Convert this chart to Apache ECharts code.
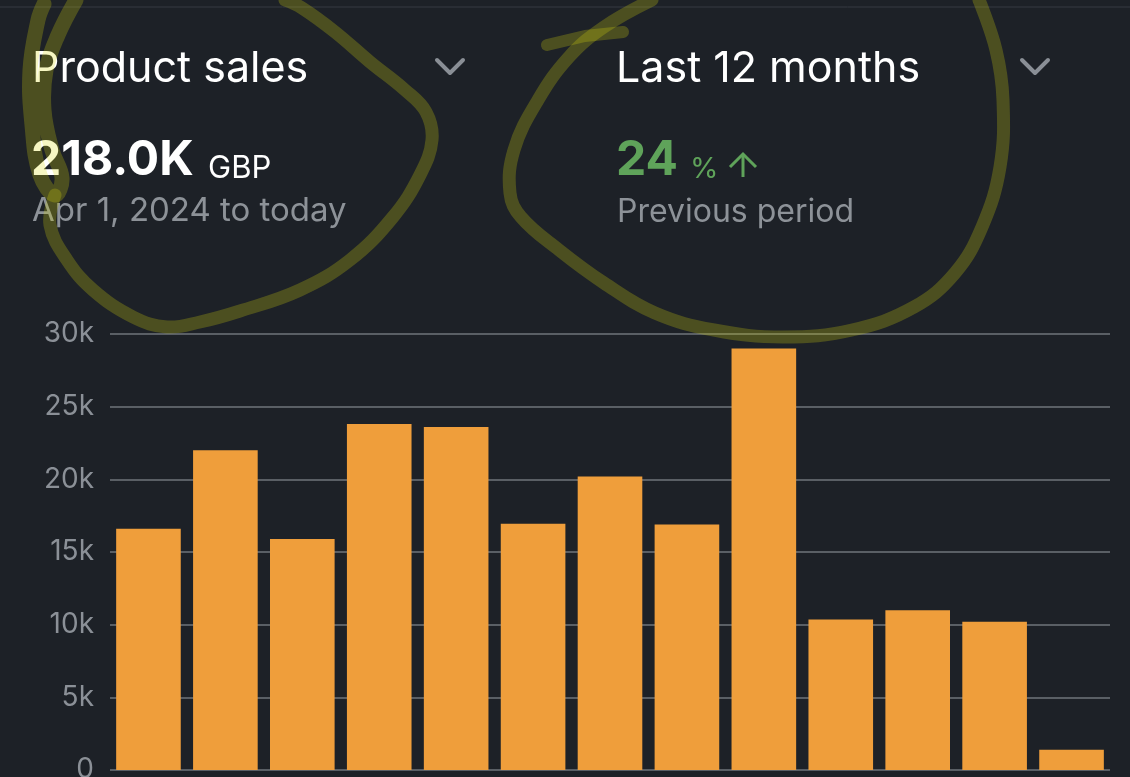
<!DOCTYPE html>
<html>
<head>
<meta charset="utf-8">
<script src="https://cdn.jsdelivr.net/npm/echarts@6/dist/echarts.min.js"></script>
<style>
html,body{margin:0;padding:0;background:#1d2127;}
#chart{width:1130px;height:777px;}
</style>
</head>
<body>
<div id="chart"></div>
<script>
// ---- data ----
const months = ['Apr 2024','May 2024','Jun 2024','Jul 2024','Aug 2024','Sep 2024','Oct 2024','Nov 2024','Dec 2024','Jan 2025','Feb 2025','Mar 2025','Apr 2025'];
const sales = [16600, 22000, 15900, 23800, 23600, 16950, 20200, 16900, 29000, 10350, 11000, 10200, 1400];
const yTicks = [0, 5000, 10000, 15000, 20000, 25000, 30000];
const metricTitle = 'Product sales';
const metricValue = '218.0K';
const metricUnit = 'GBP';
const metricRange = 'Apr 1, 2024 to today';
const periodTitle = 'Last 12 months';
const changeValue = '24';
const changeUnit = '%';
const changeLabel = 'Previous period';

const FONT = 'Inter, "Noto Sans", sans-serif';
const ink = 'rgba(220,220,10,0.25)';

const chart = echarts.init(document.getElementById('chart'));
chart.setOption({
  backgroundColor: '#1d2127',
  animation: false,
  grid: {left: 110, right: 20, top: 334, bottom: 7, containLabel: false, outerBoundsMode: 'none'},
  xAxis: {
    type: 'category',
    data: months,
    axisLine: {show: false},
    axisTick: {show: false},
    axisLabel: {show: false}
  },
  yAxis: {
    type: 'value',
    min: yTicks[0],
    max: yTicks[yTicks.length - 1],
    interval: yTicks[1] - yTicks[0],
    axisLine: {show: false},
    axisTick: {show: false},
    splitLine: {lineStyle: {color: '#6f747b', width: 1.5}},
    axisLabel: {
      color: '#8b9097',
      fontFamily: FONT,
      fontSize: 28,
      margin: 16,
      formatter: v => v === 0 ? '0' : (v / 1000) + 'k'
    }
  },
  series: [{
    type: 'bar',
    data: sales,
    barCategoryGap: '16%',
    itemStyle: {color: '#ef9e3b'},
    z: 2
  }],
  graphic: [
    {type: 'line', z: 1, shape: {x1: 0, y1: 7, x2: 1130, y2: 7}, style: {stroke: '#363b42', lineWidth: 1}},
    {type: 'text', z: 1, x: 32, y: 48, style: {text: metricTitle, fill: '#ffffff', font: '400 43px ' + FONT}},
    {type: 'polyline', z: 1, shape: {points: [[437, 60], [450, 73], [463, 60]]}, style: {stroke: '#8a8f96', lineWidth: 4, fill: null, lineCap: 'round', lineJoin: 'round'}},
    {type: 'text', z: 1, x: 616, y: 48, style: {text: periodTitle, fill: '#ffffff', font: '400 43px ' + FONT}},
    {type: 'polyline', z: 1, shape: {points: [[1022, 60], [1035, 73], [1048, 60]]}, style: {stroke: '#8a8f96', lineWidth: 4, fill: null, lineCap: 'round', lineJoin: 'round'}},
    {type: 'text', z: 1, x: 31, y: 185, style: {text: metricValue, fill: '#ffffff', font: '700 48px ' + FONT, textVerticalAlign: 'bottom'}},
    {type: 'text', z: 1, x: 208, y: 184, style: {text: metricUnit, fill: '#ffffff', font: '400 31px ' + FONT, textVerticalAlign: 'bottom'}},
    {type: 'text', z: 1, x: 32, y: 228, style: {text: metricRange, fill: '#8d9298', font: '400 33px ' + FONT, textVerticalAlign: 'bottom'}},
    {type: 'text', z: 1, x: 616, y: 185, style: {text: changeValue, fill: '#5fa35a', font: '700 48px ' + FONT, textVerticalAlign: 'bottom'}},
    {type: 'text', z: 1, x: 690, y: 184, style: {text: changeUnit, fill: '#5fa35a', font: '400 29px ' + FONT, textVerticalAlign: 'bottom'}},
    {type: 'polyline', z: 1, shape: {points: [[743, 177], [743, 154]]}, style: {stroke: '#5fa35a', lineWidth: 3, fill: null}},
    {type: 'polyline', z: 1, shape: {points: [[730, 167], [743, 154], [756, 167]]}, style: {stroke: '#5fa35a', lineWidth: 3, fill: null, lineJoin: 'miter'}},
    {type: 'text', z: 1, x: 617, y: 228, style: {text: changeLabel, fill: '#8d9298', font: '400 32px ' + FONT, textVerticalAlign: 'bottom'}},
    // hand-drawn highlight circles
    {type: 'polyline', z: 100, shape: {smooth: 0.4, points: [
      [76, 0], [58, 35], [46, 70], [44, 110], [52, 150], [62, 178], [55, 195], [40, 175], [32, 125], [30, 70], [38, 20], [44, 4]
    ]}, style: {stroke: ink, lineWidth: 15, fill: null, lineCap: 'round', lineJoin: 'round'}},
    {type: 'polyline', z: 100, shape: {smooth: 0.4, points: [
      [55, 195], [50, 225], [67, 260], [93, 290], [133, 317], [167, 327], [200, 322], [240, 311], [300, 290], [350, 260], [393, 217], [420, 175], [432, 140], [426, 112], [405, 90], [370, 62], [335, 32], [302, 8], [285, 0]
    ]}, style: {stroke: ink, lineWidth: 13, fill: null, lineCap: 'round', lineJoin: 'round'}},
    {type: 'polyline', z: 100, shape: {smooth: 0.4, points: [
      [652, 0], [604, 27], [569, 57], [538, 100], [514, 150], [510, 193], [521, 217], [559, 250], [604, 283], [655, 313], [714, 330], [783, 337], [852, 330], [914, 307], [955, 273], [982, 227], [1000, 167], [1003, 100], [996, 50], [979, 0]
    ]}, style: {stroke: ink, lineWidth: 13, fill: null, lineCap: 'round', lineJoin: 'round'}},
    {type: 'polyline', z: 100, shape: {points: [[547, 45], [585, 36], [623, 32]]}, style: {stroke: ink, lineWidth: 12, fill: null, lineCap: 'round', lineJoin: 'round'}}
  ]
});
</script>
</body>
</html>
